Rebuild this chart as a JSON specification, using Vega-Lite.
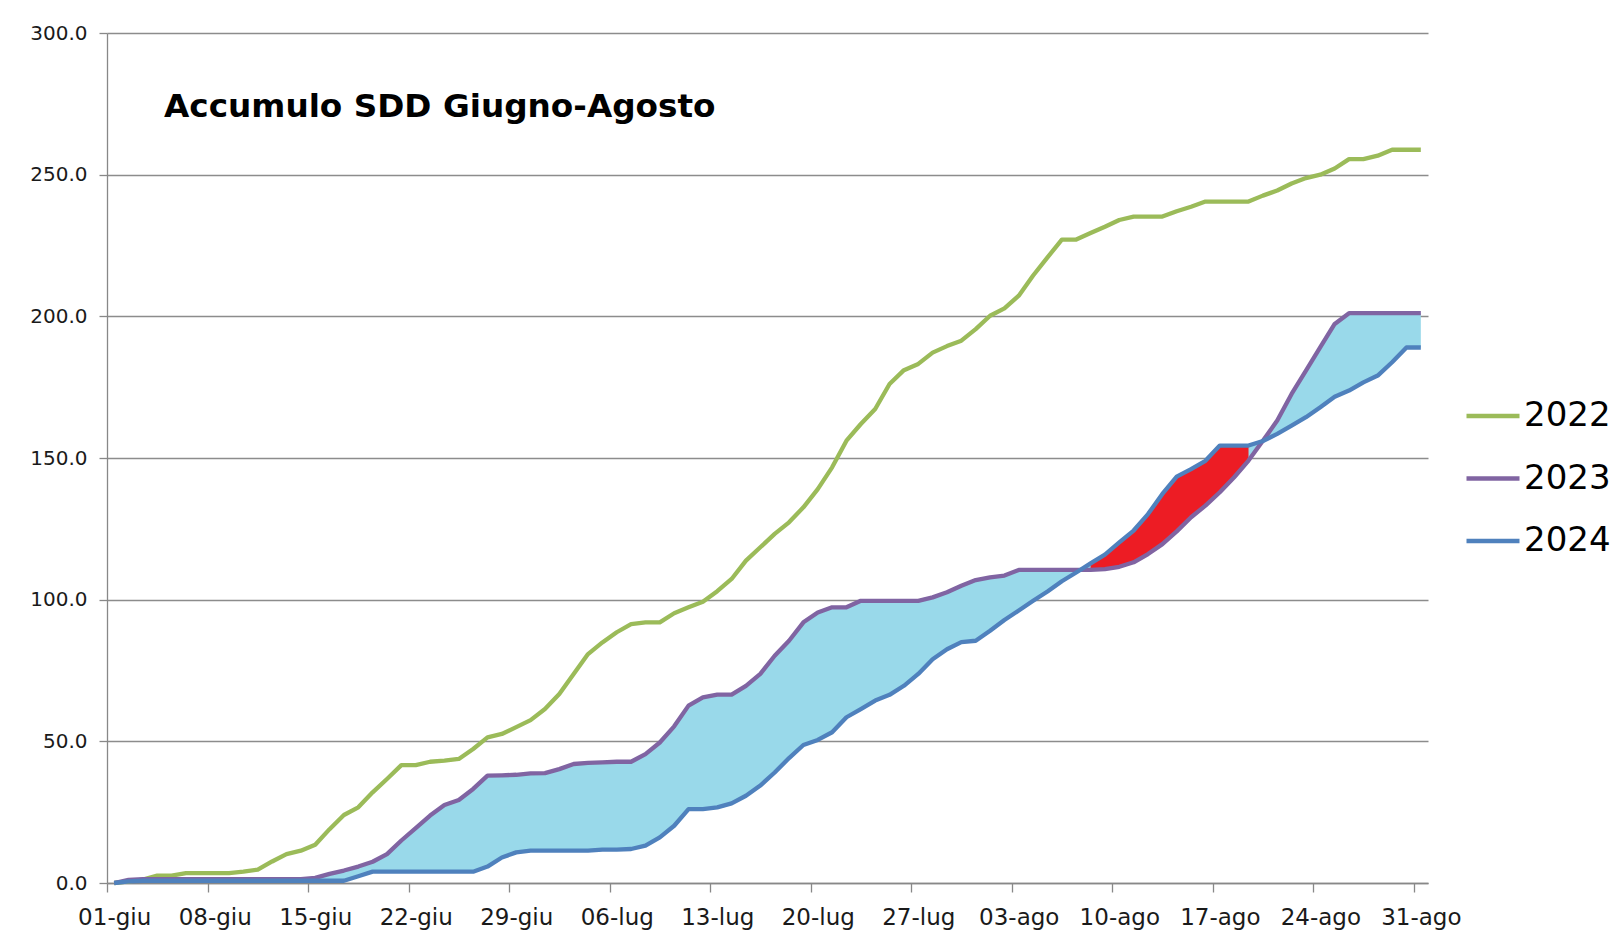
{
  "$schema": "https://vega.github.io/schema/vega-lite/v6.json",
  "width": 1321,
  "height": 850,
  "autosize": {"type": "none"},
  "padding": {"left": 107, "top": 33, "right": 188, "bottom": 58},
  "background": "white",
  "title": {"text": "Accumulo SDD Giugno-Agosto", "anchor": "start", "frame": "group", "font": "DejaVu Sans", "fontSize": 32.7, "fontWeight": "bold", "color": "#000000", "dx": 57, "dy": 127, "offset": 0, "baseline": "alphabetic"},
  "data": {"values": [
    {"d": "2024-06-01", "2022": 0, "2023": 0, "2024": 0},
    {"d": "2024-06-02", "2022": 0.6, "2023": 1.1, "2024": 0.6},
    {"d": "2024-06-03", "2022": 1.2, "2023": 1.4, "2024": 0.8},
    {"d": "2024-06-04", "2022": 2.6, "2023": 1.4, "2024": 0.8},
    {"d": "2024-06-05", "2022": 2.6, "2023": 1.4, "2024": 0.8},
    {"d": "2024-06-06", "2022": 3.5, "2023": 1.4, "2024": 0.8},
    {"d": "2024-06-07", "2022": 3.5, "2023": 1.4, "2024": 0.8},
    {"d": "2024-06-08", "2022": 3.5, "2023": 1.4, "2024": 0.8},
    {"d": "2024-06-09", "2022": 3.5, "2023": 1.4, "2024": 0.8},
    {"d": "2024-06-10", "2022": 4.0, "2023": 1.4, "2024": 0.8},
    {"d": "2024-06-11", "2022": 4.7, "2023": 1.4, "2024": 0.8},
    {"d": "2024-06-12", "2022": 7.6, "2023": 1.4, "2024": 0.8},
    {"d": "2024-06-13", "2022": 10.2, "2023": 1.4, "2024": 0.8},
    {"d": "2024-06-14", "2022": 11.4, "2023": 1.4, "2024": 0.8},
    {"d": "2024-06-15", "2022": 13.5, "2023": 1.8, "2024": 0.8},
    {"d": "2024-06-16", "2022": 19, "2023": 3.2, "2024": 0.8},
    {"d": "2024-06-17", "2022": 24, "2023": 4.4, "2024": 0.8},
    {"d": "2024-06-18", "2022": 26.7, "2023": 5.8, "2024": 2.4},
    {"d": "2024-06-19", "2022": 32, "2023": 7.5, "2024": 4},
    {"d": "2024-06-20", "2022": 36.7, "2023": 10.2, "2024": 4},
    {"d": "2024-06-21", "2022": 41.6, "2023": 15, "2024": 4},
    {"d": "2024-06-22", "2022": 41.6, "2023": 19.4, "2024": 4},
    {"d": "2024-06-23", "2022": 42.8, "2023": 23.8, "2024": 4},
    {"d": "2024-06-24", "2022": 43.2, "2023": 27.5, "2024": 4},
    {"d": "2024-06-25", "2022": 43.8, "2023": 29.3, "2024": 4},
    {"d": "2024-06-26", "2022": 47.3, "2023": 33.2, "2024": 4},
    {"d": "2024-06-27", "2022": 51.4, "2023": 37.9, "2024": 5.8},
    {"d": "2024-06-28", "2022": 52.6, "2023": 38, "2024": 9},
    {"d": "2024-06-29", "2022": 55, "2023": 38.2, "2024": 10.8},
    {"d": "2024-06-30", "2022": 57.5, "2023": 38.7, "2024": 11.4},
    {"d": "2024-07-01", "2022": 61.4, "2023": 38.8, "2024": 11.4},
    {"d": "2024-07-02", "2022": 66.7, "2023": 40.2, "2024": 11.4},
    {"d": "2024-07-03", "2022": 73.8, "2023": 42, "2024": 11.4},
    {"d": "2024-07-04", "2022": 80.8, "2023": 42.4, "2024": 11.4},
    {"d": "2024-07-05", "2022": 84.9, "2023": 42.6, "2024": 11.8},
    {"d": "2024-07-06", "2022": 88.5, "2023": 42.8, "2024": 11.8},
    {"d": "2024-07-07", "2022": 91.4, "2023": 42.8, "2024": 12},
    {"d": "2024-07-08", "2022": 92, "2023": 45.5, "2024": 13.2},
    {"d": "2024-07-09", "2022": 92, "2023": 49.6, "2024": 16.1},
    {"d": "2024-07-10", "2022": 95.2, "2023": 55.3, "2024": 20.2},
    {"d": "2024-07-11", "2022": 97.3, "2023": 62.6, "2024": 26.1},
    {"d": "2024-07-12", "2022": 99.3, "2023": 65.5, "2024": 26.1},
    {"d": "2024-07-13", "2022": 103, "2023": 66.5, "2024": 26.7},
    {"d": "2024-07-14", "2022": 107.3, "2023": 66.5, "2024": 28.1},
    {"d": "2024-07-15", "2022": 113.8, "2023": 69.6, "2024": 30.8},
    {"d": "2024-07-16", "2022": 118.5, "2023": 73.8, "2024": 34.4},
    {"d": "2024-07-17", "2022": 123.2, "2023": 80.2, "2024": 39},
    {"d": "2024-07-18", "2022": 127.3, "2023": 85.5, "2024": 44.1},
    {"d": "2024-07-19", "2022": 132.6, "2023": 92, "2024": 48.7},
    {"d": "2024-07-20", "2022": 139, "2023": 95.5, "2024": 50.5},
    {"d": "2024-07-21", "2022": 146.7, "2023": 97.3, "2024": 53.2},
    {"d": "2024-07-22", "2022": 156.1, "2023": 97.3, "2024": 58.5},
    {"d": "2024-07-23", "2022": 162, "2023": 99.6, "2024": 61.4},
    {"d": "2024-07-24", "2022": 167.3, "2023": 99.6, "2024": 64.4},
    {"d": "2024-07-25", "2022": 176.1, "2023": 99.6, "2024": 66.4},
    {"d": "2024-07-26", "2022": 181, "2023": 99.6, "2024": 69.6},
    {"d": "2024-07-27", "2022": 183.2, "2023": 99.6, "2024": 73.8},
    {"d": "2024-07-28", "2022": 187.2, "2023": 100.8, "2024": 79},
    {"d": "2024-07-29", "2022": 189.5, "2023": 102.6, "2024": 82.5},
    {"d": "2024-07-30", "2022": 191.4, "2023": 104.9, "2024": 85},
    {"d": "2024-07-31", "2022": 195.5, "2023": 106.9, "2024": 85.5},
    {"d": "2024-08-01", "2022": 200.2, "2023": 107.9, "2024": 89},
    {"d": "2024-08-02", "2022": 202.8, "2023": 108.5, "2024": 92.8},
    {"d": "2024-08-03", "2022": 207.3, "2023": 110.5, "2024": 96.2},
    {"d": "2024-08-04", "2022": 214.4, "2023": 110.5, "2024": 99.6},
    {"d": "2024-08-05", "2022": 220.8, "2023": 110.5, "2024": 102.9},
    {"d": "2024-08-06", "2022": 227.1, "2023": 110.5, "2024": 106.5},
    {"d": "2024-08-07", "2022": 227.1, "2023": 110.5, "2024": 109.6},
    {"d": "2024-08-08", "2022": 229.4, "2023": 110.5, "2024": 112.8},
    {"d": "2024-08-09", "2022": 231.6, "2023": 110.8, "2024": 115.9},
    {"d": "2024-08-10", "2022": 234, "2023": 111.6, "2024": 120.2},
    {"d": "2024-08-11", "2022": 235.2, "2023": 113.2, "2024": 124.4},
    {"d": "2024-08-12", "2022": 235.2, "2023": 116.1, "2024": 130.2},
    {"d": "2024-08-13", "2022": 235.2, "2023": 119.6, "2024": 137.3},
    {"d": "2024-08-14", "2022": 237.1, "2023": 124.1, "2024": 143.4},
    {"d": "2024-08-15", "2022": 238.7, "2023": 129.1, "2024": 146.1},
    {"d": "2024-08-16", "2022": 240.5, "2023": 133.2, "2024": 149},
    {"d": "2024-08-17", "2022": 240.5, "2023": 137.9, "2024": 154.4},
    {"d": "2024-08-18", "2022": 240.5, "2023": 143.2, "2024": 154.4},
    {"d": "2024-08-19", "2022": 240.5, "2023": 149.1, "2024": 154.4},
    {"d": "2024-08-20", "2022": 242.6, "2023": 156.1, "2024": 156},
    {"d": "2024-08-21", "2022": 244.4, "2023": 163.2, "2024": 158.5},
    {"d": "2024-08-22", "2022": 246.9, "2023": 172.6, "2024": 161.4},
    {"d": "2024-08-23", "2022": 248.8, "2023": 180.8, "2024": 164.4},
    {"d": "2024-08-24", "2022": 250, "2023": 189.1, "2024": 167.9},
    {"d": "2024-08-25", "2022": 252.2, "2023": 197.3, "2024": 171.6},
    {"d": "2024-08-26", "2022": 255.5, "2023": 201.1, "2024": 173.8},
    {"d": "2024-08-27", "2022": 255.5, "2023": 201.1, "2024": 176.7},
    {"d": "2024-08-28", "2022": 256.7, "2023": 201.1, "2024": 179.1},
    {"d": "2024-08-29", "2022": 258.8, "2023": 201.1, "2024": 183.8},
    {"d": "2024-08-30", "2022": 258.8, "2023": 201.1, "2024": 189},
    {"d": "2024-08-31", "2022": 258.8, "2023": 201.1, "2024": 189}
  ]},
  "encoding": {
    "x": {
      "field": "d", "type": "temporal",
      "scale": {"type": "utc", "domain": [{"year": 2024, "month": 5, "date": 31, "hours": 12, "utc": true}, {"year": 2024, "month": 8, "date": 31, "hours": 12, "utc": true}], "nice": false},
      "axis": {
        "title": null, "grid": false,
        "values": [
          {"year": 2024, "month": 6, "date": 1, "utc": true},
          {"year": 2024, "month": 6, "date": 8, "utc": true},
          {"year": 2024, "month": 6, "date": 15, "utc": true},
          {"year": 2024, "month": 6, "date": 22, "utc": true},
          {"year": 2024, "month": 6, "date": 29, "utc": true},
          {"year": 2024, "month": 7, "date": 6, "utc": true},
          {"year": 2024, "month": 7, "date": 13, "utc": true},
          {"year": 2024, "month": 7, "date": 20, "utc": true},
          {"year": 2024, "month": 7, "date": 27, "utc": true},
          {"year": 2024, "month": 8, "date": 3, "utc": true},
          {"year": 2024, "month": 8, "date": 10, "utc": true},
          {"year": 2024, "month": 8, "date": 17, "utc": true},
          {"year": 2024, "month": 8, "date": 24, "utc": true},
          {"year": 2024, "month": 8, "date": 31, "utc": true}
        ],
        "labelExpr": "utcFormat(datum.value, '%d') + '-' + ['gen','feb','mar','apr','mag','giu','lug','ago','set','ott','nov','dic'][utcmonth(datum.value)]",
        "tickSize": 9, "tickOffset": -7.18, "labelOffset": 7.18, "labelPadding": 14,
        "labelFontSize": 23, "labelAngle": 0, "labelOverlap": false, "labelFlush": false,
        "domainWidth": 1.3, "tickWidth": 1.3
      }
    }
  },
  "layer": [
    {
      "mark": {"type": "area", "color": "#99D9EA", "interpolate": "linear"},
      "encoding": {
        "y": {"field": "2023", "type": "quantitative", "scale": {"domain": [0, 300], "nice": false},
          "axis": {"title": null, "values": [0, 50, 100, 150, 200, 250, 300], "format": ".1f", "grid": true, "gridWidth": 1.3, "tickSize": 8, "labelPadding": 12, "labelFontSize": 20, "domainWidth": 1.3, "tickWidth": 1.3}},
        "y2": {"field": "2024"}
      }
    },
    {
      "transform": [{"filter": "datum['2024'] > datum['2023']"}],
      "mark": {"type": "area", "color": "#ED1C24", "interpolate": "linear"},
      "encoding": {
        "y": {"field": "2024", "type": "quantitative"},
        "y2": {"field": "2023"}
      }
    },
    {
      "transform": [{"fold": ["2022", "2023", "2024"], "as": ["anno", "val"]}],
      "mark": {"type": "line", "strokeWidth": 4.3, "strokeJoin": "round", "interpolate": "linear"},
      "encoding": {
        "y": {"field": "val", "type": "quantitative"},
        "color": {"field": "anno", "type": "nominal",
          "scale": {"domain": ["2022", "2023", "2024"], "range": ["#9BBB59", "#8064A2", "#4F81BD"]},
          "legend": {"orient": "none", "legendX": 1357, "legendY": 354, "title": null, "symbolType": "stroke", "symbolSize": 2809, "symbolStrokeWidth": 4.3, "labelFont": "DejaVu Sans", "labelFontSize": 34, "labelColor": "#000000", "rowPadding": 16.5, "labelOffset": 2, "padding": 0}}
      }
    }
  ],
  "config": {
    "view": {"stroke": null},
    "axis": {"labelFont": "DejaVu Sans", "labelColor": "#1a1a1a", "domainColor": "#888888", "tickColor": "#888888", "gridColor": "#8c8c8c"}
  }
}
